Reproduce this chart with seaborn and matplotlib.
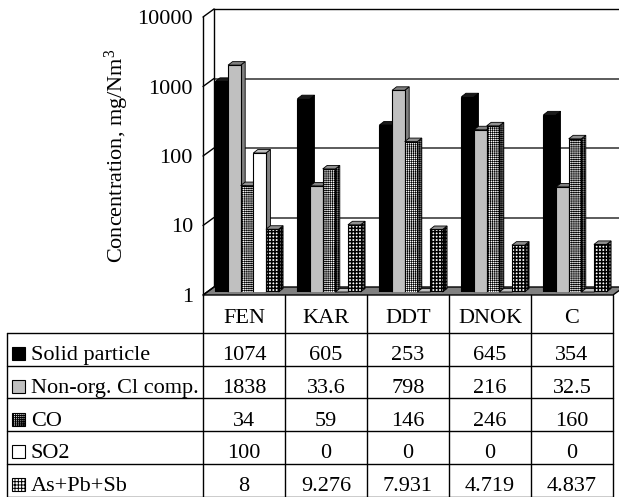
import numpy as np
import pandas as pd
import matplotlib
matplotlib.use("Agg")
import matplotlib.pyplot as plt
import seaborn as sns
from matplotlib.patches import Polygon, Rectangle
from matplotlib.lines import Line2D

# ---------------- data ----------------
categories = ["FEN", "KAR", "DDT", "DNOK", "C"]
series_names = ["Solid particle", "Non-org. Cl comp.", "CO", "SO2", "As+Pb+Sb"]
solid_particle = [1074, 605, 253, 645, 354]
non_org_cl = [1838, 33.6, 798, 216, 32.5]
co = [34, 59, 146, 246, 160]
so2 = [100, 0, 0, 0, 0]
as_pb_sb = [8, 9.276, 7.931, 4.719, 4.837]
y_ticks = [1, 10, 100, 1000, 10000]
y_tick_labels = ["1", "10", "100", "1000", "10000"]
y_label = "Concentration, mg/Nm$^{3}$"

series_values = [solid_particle, non_org_cl, co, so2, as_pb_sb]

# ---------------- style ----------------
sns.set_style("white")
plt.rcParams["font.family"] = ["Liberation Serif", "DejaVu Serif"]
plt.rcParams["mathtext.fontset"] = "custom"
plt.rcParams["mathtext.rm"] = "Liberation Serif"
plt.rcParams["mathtext.it"] = "Liberation Serif:italic"
plt.rcParams["hatch.linewidth"] = 0.7
FS = 16

face_colors = ["#000000", "#c0c0c0", "#ffffff", "#ffffff", "#ffffff"]
hatches = [None, None, "++++++++", None, "+++++"]
hatch_lw = [0.7, 0.7, 0.45, 0.7, 1.1]
side_colors = ["#000000", "#808080", "#808080", "#808080", "#808080"]
top_colors = ["#1a1a1a", "#808080", "#909090", "#c0c0c0", "#909090"]

W, H = 619, 497
fig = plt.figure(figsize=(W / 100, H / 100), dpi=100)


def rect(x0, ytop, w, h):
    return [x0 / W, 1 - (ytop + h) / H, w / W, h / H]


PW, PH = 410, 278
FRONT = (203, 17)
MID = (206, 14)
BACK = (214, 9)

ax_back = fig.add_axes(rect(BACK[0], BACK[1], PW, PH), zorder=0)
ax = fig.add_axes(rect(MID[0], MID[1], PW, PH), zorder=1)
ax_front = fig.add_axes(rect(FRONT[0], FRONT[1], PW, PH), zorder=2)
tab = fig.add_axes([0, 0, 1, 1], zorder=3)

n_cat = len(categories)
for a in (ax_back, ax, ax_front):
    a.set_yscale("log")
    a.set_ylim(y_ticks[0], y_ticks[-1])
    a.set_xlim(-0.5, n_cat - 0.5)

# ---------------- back wall ----------------
ax_back.set_facecolor("white")
for s in ("right", "bottom"):
    ax_back.spines[s].set_visible(False)
for s in ("top", "left"):
    ax_back.spines[s].set_color("black")
    ax_back.spines[s].set_linewidth(1.0)
ax_back.set_xticks([])
ax_back.set_yticks(y_ticks[1:-1])
ax_back.yaxis.set_minor_locator(matplotlib.ticker.NullLocator())
ax_back.tick_params(axis="y", length=0, labelleft=False)
ax_back.grid(axis="y", color="#404040", linewidth=1.2)

# ---------------- bars ----------------
df = pd.DataFrame(
    [(c, s, v) for s, vals in zip(series_names, series_values) for c, v in zip(categories, vals)],
    columns=["category", "series", "value"],
)
sns.barplot(
    data=df, x="category", y="value", hue="series", order=categories,
    hue_order=series_names, palette=face_colors, saturation=1, width=0.77,
    errorbar=None, legend=False, edgecolor="black", linewidth=0.8, ax=ax,
)
ax.set_ylim(y_ticks[0], y_ticks[-1])
ax.set_xlim(-0.5, n_cat - 0.5)
ax.axis("off")

inv = fig.transFigure.inverted()
DX, DY = 4.5 / W, 3.5 / H
bars = []
for i, cont in enumerate(ax.containers):
    for p in cont.patches:
        p.set_facecolor(face_colors[i])
        p.set_edgecolor("black")
        if hatches[i]:
            p.set_hatch(hatches[i])
            try:
                p.set_hatch_linewidth(hatch_lw[i])
            except Exception:
                pass
        bars.append((p.get_x(), i, p))
bars.sort(key=lambda t: t[0])
for k, (_, i, p) in enumerate(bars):
    x0, w, h = p.get_x(), p.get_width(), p.get_height()
    top = max(h, y_ticks[0])
    xl, yb = inv.transform(ax.transData.transform((x0, y_ticks[0])))
    xr, yt = inv.transform(ax.transData.transform((x0 + w, top)))
    z = 2 + 0.01 * k
    side = Polygon([(xr, yb), (xr, yt), (xr + DX, yt + DY), (xr + DX, yb + DY)],
                   closed=True, transform=fig.transFigure, clip_on=False,
                   facecolor=side_colors[i], edgecolor="black", linewidth=0.6,
                   hatch=hatches[i], zorder=z)
    topf = Polygon([(xl, yt), (xr, yt), (xr + DX, yt + DY), (xl + DX, yt + DY)],
                   closed=True, transform=fig.transFigure, clip_on=False,
                   facecolor=top_colors[i], edgecolor="black", linewidth=0.6, zorder=z)
    if hatches[i]:
        try:
            side.set_hatch_linewidth(hatch_lw[i])
        except Exception:
            pass
    ax.add_patch(side)
    ax.add_patch(topf)
    p.set_zorder(z + 0.005)

# floor
pf = ax_front.get_position()
pb = ax_back.get_position()
floor = Polygon([(pf.x0, pf.y0), (pf.x1, pf.y0), (pb.x1, pb.y0), (pb.x0, pb.y0)],
                closed=True, transform=fig.transFigure, clip_on=False,
                facecolor="#808080", edgecolor="black", linewidth=1.0, zorder=0.5)
ax.add_patch(floor)

# ---------------- front axis ----------------
ax_front.patch.set_visible(False)
for s in ("right", "bottom", "top"):
    ax_front.spines[s].set_visible(False)
ax_front.spines["left"].set_color("black")
ax_front.spines["left"].set_linewidth(1.0)
ax_front.set_xticks([])
ax_front.set_yticks(y_ticks)
ax_front.set_yticklabels(y_tick_labels)
ax_front.yaxis.set_minor_locator(matplotlib.ticker.NullLocator())
ax_front.tick_params(axis="y", direction="out", length=5.8, width=1.0, pad=1.5,
                     labelsize=FS, colors="black")
ax_front.set_ylabel(y_label, fontsize=FS, color="black")
ax_front.yaxis.set_label_coords(-0.175, 0.5)

for t in y_ticks:
    a = inv.transform(ax_front.transData.transform((-0.5, t)))
    b = inv.transform(ax_back.transData.transform((-0.5, t)))
    ax_front.add_line(Line2D([a[0], b[0]], [a[1], b[1]], transform=fig.transFigure,
                             color="black", linewidth=1.0, clip_on=False))

# ---------------- data table ----------------
tab.set_xlim(0, W)
tab.set_ylim(H, 0)
tab.axis("off")
col_x0 = FRONT[0]
col_w = PW / n_cat
x_end = col_x0 + PW
head_top, head_bot = 295, 333
row_h = (H - 0.5 - head_bot) / len(series_names)
left_x = 7
lw = 1.0
for k in range(n_cat + 1):
    x = col_x0 + k * col_w
    tab.plot([x, x], [head_top, H - 0.5], color="black", lw=lw)
tab.plot([left_x, left_x], [head_bot, H - 0.5], color="black", lw=lw)
for r in range(len(series_names) + 1):
    y = head_bot + r * row_h
    tab.plot([left_x, x_end], [min(y, H - 0.5)] * 2, color="black", lw=lw)
for k, c in enumerate(categories):
    tab.text(col_x0 + (k + 0.5) * col_w, head_bot - 10, c, ha="center", va="baseline",
             fontsize=FS, color="black")
for r, (s, vals) in enumerate(zip(series_names, series_values)):
    base = head_bot + (r + 1) * row_h - 5.5
    key = Rectangle((12, base - 13), 13, 13, facecolor=face_colors[r], edgecolor="black",
                    linewidth=0.8, hatch=hatches[r])
    tab.add_patch(key)
    tab.text(31, base, s, ha="left", va="baseline", fontsize=FS, color="black")
    for k, v in enumerate(vals):
        tab.text(col_x0 + (k + 0.5) * col_w, base, f"{v:g}", ha="center", va="baseline",
                 fontsize=FS, color="black")

fig.savefig("out.png", dpi=100, facecolor="white")
